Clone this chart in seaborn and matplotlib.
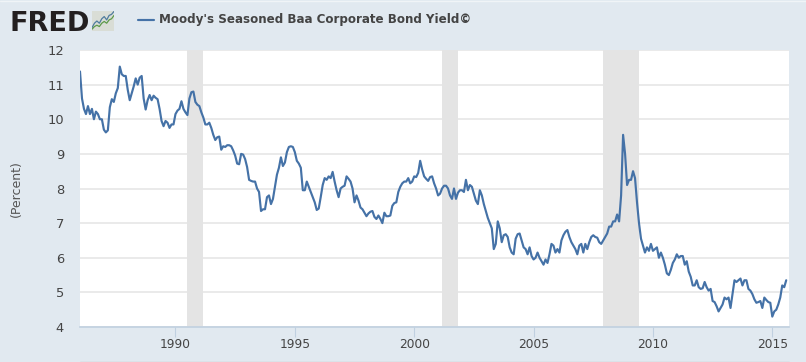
import matplotlib
matplotlib.use("Agg")
import matplotlib.pyplot as plt
import numpy as np
import pandas as pd
import seaborn as sns

# monthly yields, Jan 1986 - Aug 2015
y1986 = [11.38, 10.6, 10.3, 10.15, 10.38, 10.15, 10.3, 10.0, 10.22, 10.15, 10.0, 10.0]
y1987 = [9.7, 9.62, 9.68, 10.35, 10.58, 10.5, 10.75, 10.9, 11.52, 11.3, 11.25, 11.25]
y1988 = [10.85, 10.55, 10.75, 10.95, 11.18, 11.0, 11.2, 11.25, 10.6, 10.28, 10.55, 10.7]
y1989 = [10.55, 10.68, 10.62, 10.58, 10.3, 9.95, 9.8, 9.95, 9.9, 9.75, 9.85, 9.85]
y1990 = [10.15, 10.25, 10.3, 10.52, 10.3, 10.2, 10.12, 10.6, 10.78, 10.8, 10.5, 10.42]
y1991 = [10.38, 10.2, 10.05, 9.85, 9.85, 9.9, 9.75, 9.55, 9.4, 9.48, 9.5, 9.12]
y1992 = [9.22, 9.2, 9.25, 9.25, 9.22, 9.1, 8.95, 8.72, 8.7, 9.0, 8.98, 8.85]
y1993 = [8.62, 8.25, 8.22, 8.2, 8.2, 8.0, 7.9, 7.35, 7.4, 7.4, 7.75, 7.8]
y1994 = [7.55, 7.7, 8.05, 8.4, 8.6, 8.9, 8.65, 8.75, 9.05, 9.2, 9.22, 9.2]
y1995 = [9.05, 8.8, 8.72, 8.6, 7.95, 7.95, 8.2, 8.05, 7.9, 7.75, 7.6, 7.38]
y1996 = [7.42, 7.75, 8.1, 8.3, 8.25, 8.35, 8.3, 8.48, 8.2, 7.95, 7.75, 8.0]
y1997 = [8.05, 8.08, 8.35, 8.28, 8.2, 8.0, 7.6, 7.8, 7.65, 7.45, 7.4, 7.3]
y1998 = [7.2, 7.28, 7.33, 7.35, 7.18, 7.12, 7.22, 7.12, 7.0, 7.3, 7.2, 7.2]
y1999 = [7.22, 7.5, 7.58, 7.6, 7.9, 8.05, 8.15, 8.2, 8.2, 8.3, 8.15, 8.2]
y2000 = [8.35, 8.33, 8.45, 8.8, 8.55, 8.35, 8.28, 8.22, 8.33, 8.35, 8.15, 8.0]
y2001 = [7.8, 7.85, 8.0, 8.08, 8.08, 8.0, 7.8, 7.7, 8.0, 7.7, 7.88, 7.95]
y2002 = [7.95, 7.9, 8.25, 7.95, 8.1, 8.05, 7.85, 7.65, 7.55, 7.95, 7.8, 7.55]
y2003 = [7.35, 7.15, 7.0, 6.85, 6.25, 6.4, 7.05, 6.85, 6.45, 6.65, 6.68, 6.6]
y2004 = [6.3, 6.15, 6.1, 6.55, 6.68, 6.7, 6.5, 6.3, 6.25, 6.1, 6.3, 6.05]
y2005 = [5.95, 6.0, 6.15, 6.0, 5.9, 5.8, 5.95, 5.85, 6.1, 6.4, 6.35, 6.15]
y2006 = [6.25, 6.15, 6.5, 6.65, 6.75, 6.8, 6.6, 6.45, 6.35, 6.25, 6.1, 6.35]
y2007 = [6.4, 6.15, 6.4, 6.25, 6.45, 6.6, 6.65, 6.6, 6.58, 6.45, 6.4, 6.5]
y2008 = [6.6, 6.7, 6.9, 6.9, 7.05, 7.05, 7.25, 7.05, 7.8, 9.55, 9.0, 8.1]
y2009 = [8.25, 8.25, 8.5, 8.3, 7.6, 7.0, 6.55, 6.35, 6.15, 6.3, 6.2, 6.4]
y2010 = [6.2, 6.25, 6.3, 6.0, 6.15, 6.0, 5.8, 5.55, 5.5, 5.65, 5.85, 5.95]
y2011 = [6.1, 6.0, 6.05, 6.05, 5.8, 5.9, 5.6, 5.45, 5.2, 5.2, 5.35, 5.15]
y2012 = [5.1, 5.12, 5.3, 5.15, 5.05, 5.1, 4.75, 4.72, 4.6, 4.45, 4.55, 4.65]
y2013 = [4.85, 4.8, 4.85, 4.55, 4.95, 5.35, 5.3, 5.35, 5.4, 5.2, 5.35, 5.35]
y2014 = [5.1, 5.05, 4.95, 4.8, 4.7, 4.72, 4.75, 4.55, 4.85, 4.78, 4.72, 4.7]
y2015 = [4.3, 4.45, 4.5, 4.65, 4.85, 5.2, 5.15, 5.35]

yields = (y1986 + y1987 + y1988 + y1989 + y1990 + y1991 + y1992 + y1993 + y1994 + y1995
          + y1996 + y1997 + y1998 + y1999 + y2000 + y2001 + y2002 + y2003 + y2004 + y2005
          + y2006 + y2007 + y2008 + y2009 + y2010 + y2011 + y2012 + y2013 + y2014 + y2015)
dates = pd.date_range("1986-01-01", periods=len(yields), freq="MS")
year_frac = dates.year + (dates.month - 1) / 12

recessions = [(1990.5, 1991.17), (2001.17, 2001.83), (2007.92, 2009.42)]
x_ticks = [1990, 1995, 2000, 2005, 2010, 2015]
y_ticks = [4, 5, 6, 7, 8, 9, 10, 11, 12]
series_name = "Moody's Seasoned Baa Corporate Bond Yield©"

# little chart in the logo
icon_x = [0, 1, 2, 3, 4, 5, 6, 7, 8, 9]
icon_blue = [1.5, 3.5, 4.5, 3.5, 5.5, 6.5, 5.0, 7.0, 7.5, 8.8]
icon_green = [0.8, 2.0, 2.6, 2.0, 3.5, 4.3, 3.5, 5.0, 5.5, 7.0]

BG = "#E1E9F0"
W, H = 806, 362

sns.set_theme(style="white")
plt.rcParams['font.family'] = ['DejaVu Sans']

fig = plt.figure(figsize=(W / 100, H / 100), dpi=100, facecolor=BG)
ax = fig.add_axes([80 / W, 1 - 327 / H, (789 - 80) / W, (327 - 50) / H])
ax.set_facecolor("white")

for start, end in recessions:
    ax.axvspan(start, end, color="#E4E4E4", lw=0, zorder=1.5)

df = pd.DataFrame({"year": year_frac, "value": yields})
sns.lineplot(data=df, x="year", y="value", ax=ax, color="#4572A7", linewidth=1.55, zorder=3)

ax.set_xlim(1986, 2015.7)
ax.set_ylim(4, 12)
ax.set_xticks(x_ticks)
ax.set_yticks(y_ticks)
ax.set_xlabel("")
ax.set_ylabel("(Percent)", fontsize=9, color="#555555")
ax.yaxis.set_label_coords((23 - 80) / (789 - 80), 0.5)
ax.grid(axis="y", color="#E6E6E6", linewidth=1.2, zorder=1)
ax.set_axisbelow(True)
ax.tick_params(axis="x", length=7, width=0.8, color="#C0D0E0", labelcolor="#444444", labelsize=8.8, pad=1, bottom=True)
ax.tick_params(axis="y", length=0, labelcolor="#444444", labelsize=9.4, pad=11.5)
for name in ["top", "left", "right"]:
    ax.spines[name].set_visible(False)
ax.spines["bottom"].set_color("#C0D0E0")
ax.spines["bottom"].set_linewidth(1.2)

# header: logo and legend
fig.text(9 / W, 1 - 31 / H, "FRED", fontsize=19.5, fontweight="bold", color="#231F20", va="baseline", ha="left")
icon = fig.add_axes([92 / W, 1 - 31 / H, 22 / W, 20 / H])
icon.set_facecolor("#D9DDD6")
sns.lineplot(x=icon_x, y=icon_blue, ax=icon, color="#4F7C9E", linewidth=0.9)
sns.lineplot(x=icon_x, y=icon_green, ax=icon, color="#5E9A4A", linewidth=0.9)
icon.set_xlim(0, 9)
icon.set_ylim(0, 9)
icon.set_xticks([])
icon.set_yticks([])
icon.set_xlabel("")
icon.set_ylabel("")
for s in icon.spines.values():
    s.set_visible(False)

fig.add_artist(plt.Line2D([138 / W, 154 / W], [1 - 20 / H, 1 - 20 / H], color="#4572A7", linewidth=1.55))
fig.text(159 / W, 1 - 20 / H, series_name, fontsize=8.6, fontweight="bold", color="#444444", va="center", ha="left")

# thin page edges
fig.add_artist(plt.Line2D([0, 1], [1 - 0.5 / H, 1 - 0.5 / H], color="#F0F4F7", linewidth=1))
fig.add_artist(plt.Line2D([80 / W, 789 / W], [1 - 361.5 / H, 1 - 361.5 / H], color="#C4C8CC", linewidth=1))

fig.savefig("out.png", dpi=100, facecolor=BG)
